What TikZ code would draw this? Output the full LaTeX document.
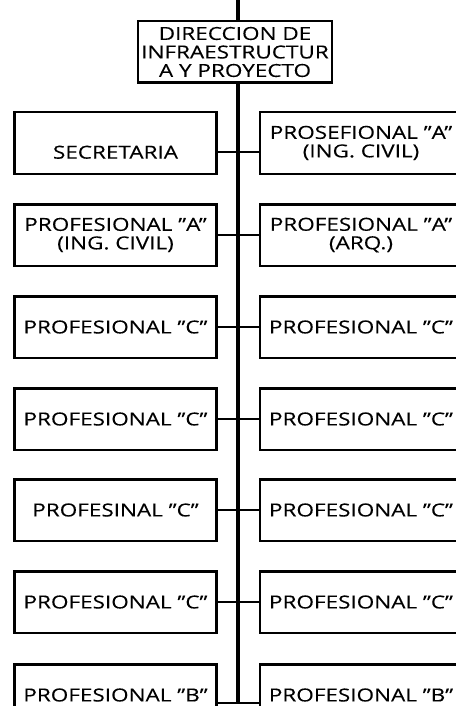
\documentclass[tikz,border=0pt]{standalone}
\usepackage{fontspec}
\setmainfont{Open Sans}[FakeStretch=1.25, FakeBold=0.2]
\newcommand{\qt}{\symbol{34}}
\begin{document}
\begin{tikzpicture}[
			x = 1pt, y = -1pt,
			cargo/.style = {draw, line width = 2.5pt, minimum width = 202pt, minimum height = 61.5pt,
				inner sep = 0pt, align = center, font = \fontsize{18}{18.5}\selectfont},
			tronco/.style = {line width = 4pt},
			rama/.style = {line width = 2pt}
			]

			\useasboundingbox (0,0) rectangle (455,706);

			\def\xl{115.5}
			\def\xr{361}

			% direccion
			\node[cargo, minimum width = 194pt] (dir) at (235,52) {DIRECCION DE\\INFRAESTRUCTUR\\A Y PROYECTO};

			% spine
			\coordinate (arriba) at (238,0);
			\coordinate (abajo) at (238,703);
			\draw[tronco] (arriba) -- (arriba |- dir.north);
			\draw[tronco] (arriba |- dir.south) -- (abajo);

			% left column
			\node[cargo] (izq1) at (\xl,143) {\rule{0pt}{13pt}\\SECRETARIA};
			\node[cargo] (izq2) at (\xl,235) {PROFESIONAL \qt A\qt\\(ING. CIVIL)};
			\node[cargo] (izq3) at (\xl,327) {PROFESIONAL \qt C\qt};
			\node[cargo] (izq4) at (\xl,419) {PROFESIONAL \qt C\qt};
			\node[cargo] (izq5) at (\xl,510) {PROFESINAL \qt C\qt};
			\node[cargo] (izq6) at (\xl,602) {PROFESIONAL \qt C\qt};
			\node[cargo] (izq7) at (\xl,695) {PROFESIONAL \qt B\qt};

			% right column
			\node[cargo] (der1) at (\xr,143) {PROSEFIONAL \qt A\qt\\(ING. CIVIL)};
			\node[cargo] (der2) at (\xr,235) {PROFESIONAL \qt A\qt\\(ARQ.)};
			\node[cargo] (der3) at (\xr,327) {PROFESIONAL \qt C\qt};
			\node[cargo] (der4) at (\xr,419) {PROFESIONAL \qt C\qt};
			\node[cargo] (der5) at (\xr,510) {PROFESIONAL \qt C\qt};
			\node[cargo] (der6) at (\xr,602) {PROFESIONAL \qt C\qt};
			\node[cargo] (der7) at (\xr,695) {PROFESIONAL \qt B\qt};

			% connectors
			\draw[rama] ([yshift=-9pt]izq1.east) -- ([yshift=-9pt]der1.west);
			\draw[rama] (izq2.east) -- (der2.west);
			\draw[rama] (izq3.east) -- (der3.west);
			\draw[rama] (izq4.east) -- (der4.west);
			\draw[rama] (izq5.east) -- (der5.west);
			\draw[rama] (izq6.east) -- (der6.west);
			\draw[rama] ([yshift=-8pt]izq7.east) -- ([yshift=-8pt]der7.west);

		\end{tikzpicture}
\end{document}
